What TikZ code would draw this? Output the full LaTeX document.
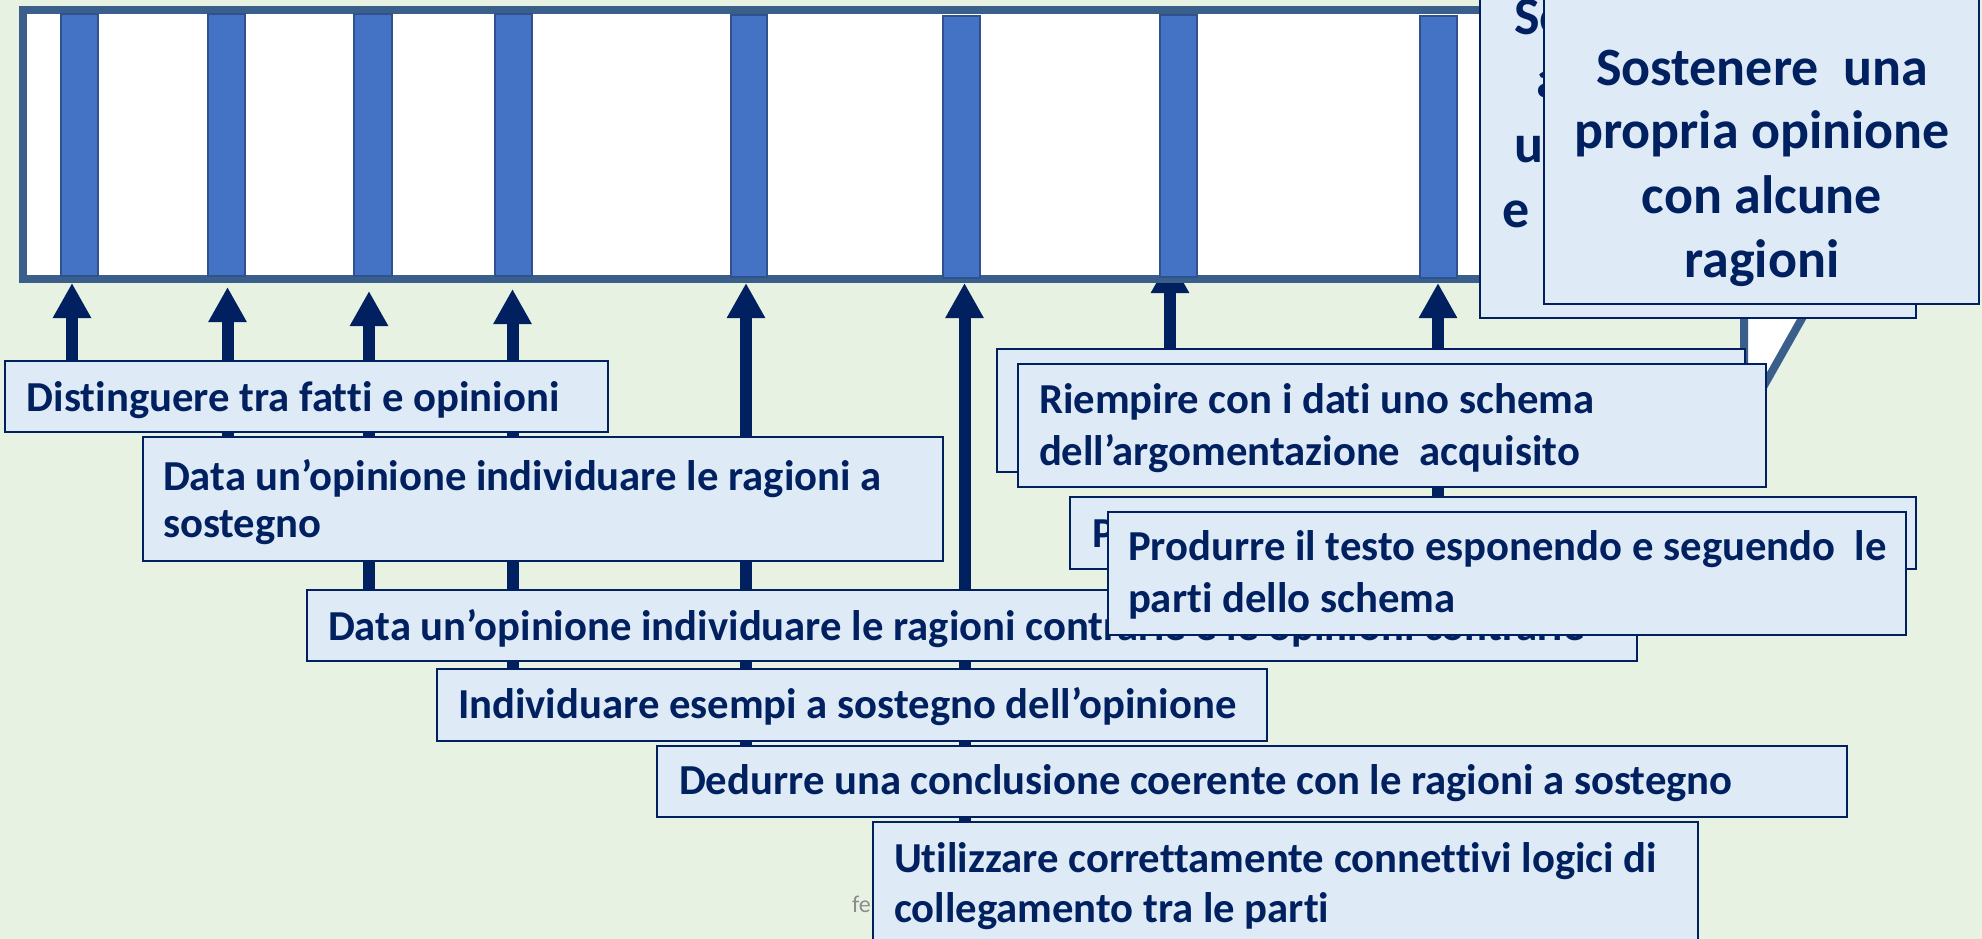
\documentclass[tikz,border=0pt]{standalone}
\usepackage{fontspec}
\setmainfont{Carlito}[Ligatures=NoCommon]
\usetikzlibrary{arrows.meta,fit}
\definecolor{bgc}{HTML}{E8F2E2}
\definecolor{navy}{HTML}{002060}
\definecolor{boxfill}{HTML}{DEEAF6}
\definecolor{steel}{HTML}{3A5F8B}
\definecolor{barfill}{HTML}{4472C4}
\definecolor{baredge}{HTML}{2F528F}
\definecolor{footgray}{HTML}{8C8C8C}
\pgfdeclarelayer{bglayer}
\pgfdeclarelayer{arrowlayer}
\pgfsetlayers{bglayer,arrowlayer,main}
\begin{document}
\begin{tikzpicture}[x=1pt,y=-1pt,
  box/.style={draw=navy, fill=boxfill, line width=2.5pt, inner sep=0pt, outer sep=0pt},
  bar/.style={draw=baredge, fill=barfill, line width=1.5pt, inner sep=0pt, outer sep=0pt, anchor=north west, minimum height=262pt},
  txt/.style={anchor=base west, inner sep=0pt, outer sep=0pt, text=navy, font=\fontsize{42.7}{47}\selectfont\bfseries},
  txtb/.style={anchor=base west, inner sep=0pt, outer sep=0pt, text=navy, font=\fontsize{42.7}{52}\selectfont\bfseries},
  bigtxt/.style={anchor=base west, inner sep=0pt, outer sep=0pt, text=navy, font=\fontsize{54}{64}\selectfont\bfseries},
  bigctr/.style={anchor=base, inner sep=0pt, outer sep=0pt, text=navy, font=\fontsize{54}{64}\selectfont\bfseries},
  arr/.style={draw=navy, line width=12pt, -{Triangle[length=35pt,width=36pt]}},
  frame/.style={draw=steel, line width=8pt, fill=white}
]
\useasboundingbox (0,0) rectangle (1982,939);
\begin{pgfonlayer}{bglayer}
\fill[bgc] (0,0) rectangle (1982,939);
\end{pgfonlayer}

% ladder frame and bars
\draw[frame] (23,10) rectangle (1700,279);
\node[bar, minimum width=37pt] (bar1) at (61,14) {};
\node[bar, minimum width=37pt] (bar2) at (208,14) {};
\node[bar, minimum width=38pt] (bar3) at (354,14) {};
\node[bar, minimum width=37pt] (bar4) at (495,14) {};
\node[bar, minimum width=36pt] (bar5) at (731,15) {};
\node[bar, minimum width=37pt] (bar6) at (943,16) {};
\node[bar, minimum width=37pt] (bar7) at (1160,15) {};
\node[bar, minimum width=37pt] (bar8) at (1420,16) {};

% callout tail
\draw[frame, line join=miter] (1744,290) -- (1744,421) -- (1818,290) -- cycle;

% arrow tips
\coordinate (t1) at (72,283);
\coordinate (t2) at (227.5,287);
\coordinate (t3) at (369,291);
\coordinate (t4) at (512.5,289);
\coordinate (t5) at (746,283);
\coordinate (t6) at (964.5,283);
\coordinate (t7) at (1170,258);
\coordinate (t8) at (1438,283);

% boxes
\node[box, fit={(5,361) (608,432)}] (A) {};
\node[txt] (A1) at (27,411) {Distinguere tra fatti e opinioni};

\node[box, fit={(143,437) (943,561)}] (B) {};
\node[txt] (B1) at (163,490) {Data un’opinione individuare le ragioni a};
\node[txt] (B2) at (163,537) {sostegno};

\node[box, fit={(307,590) (1637,661)}] (C) {};
\node[txt] (C1) at (328,640) {Data un’opinione individuare le ragioni contrarie e le opinioni contrarie};

\node[box, fit={(437,669) (1267,741)}] (D) {};
\node[txt] (D1) at (458,718) {Individuare esempi a sostegno dell’opinione};

\node[box, fit={(657,746) (1847,817)}] (E) {};
\node[txt] (E1) at (679,794) {Dedurre una conclusione coerente con le ragioni a sostegno};

\node[anchor=base west, inner sep=0pt, text=footgray, font=\fontsize{24}{28}\selectfont] (foot) at (852,912) {fe};

\node[box, fit={(873,822) (1698,950)}] (F) {};
\node[txt] (F1) at (894,872) {Utilizzare correttamente connettivi logici di};
\node[txt] (F2) at (894,922) {collegamento tra le parti};

\node[box, fit={(997,349) (1745,472)}] (Gb) {};
\node[box, fit={(1018,364) (1766,487)}] (G) {};
\node[txtb] (G1) at (1039,413) {Riempire con i dati uno schema};
\node[txtb] (G2) at (1039,465) {dell’argomentazione~~acquisito};

\node[box, fit={(1070,497) (1916,569)}] (Hb) {};
\node[txtb] (Hb1) at (1092,547) {P};
\node[box, fit={(1108,512) (1906,635)}] (H) {};
\node[txtb] (H1) at (1128,560) {Produrre il testo esponendo e seguendo~~le};
\node[txtb] (H2) at (1128,612) {parti dello schema};

\node[box, fit={(1480,-10) (1916,318)}] (Sb) {};
\node[bigtxt] (Sb1) at (1514,35) {So};
\node[bigtxt] (Sb2) at (1536,98) {a};
\node[bigtxt] (Sb3) at (1514,163) {u};
\node[bigtxt] (Sb4) at (1502,227) {e};
\node[box, fit={(1544,-10) (1979,304)}] (S) {};
\node[bigctr] (S1) at (1762,86) {Sostenere~~una};
\node[bigctr] (S2) at (1762,149) {propria opinione};
\node[bigctr] (S3) at (1762,213) {con alcune};
\node[bigctr] (S4) at (1762,277) {ragioni};

% connectors
\begin{pgfonlayer}{arrowlayer}
\draw[arr] (A.center -| t1) -- (t1);
\draw[arr] (B.center -| t2) -- (t2);
\draw[arr] (C.center -| t3) -- (t3);
\draw[arr] (D.center -| t4) -- (t4);
\draw[arr] (E.center -| t5) -- (t5);
\draw[arr] (F.center -| t6) -- (t6);
\draw[arr] (Gb.center -| t7) -- (t7);
\draw[arr] (H.center -| t8) -- (t8);
\end{pgfonlayer}
\end{tikzpicture}
\end{document}
